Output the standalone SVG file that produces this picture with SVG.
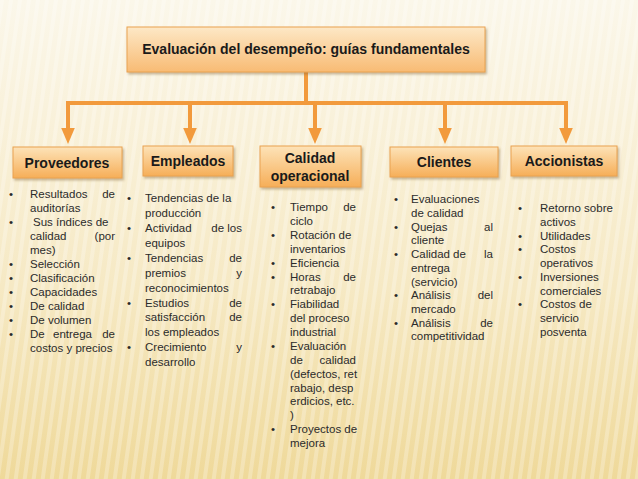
<svg xmlns="http://www.w3.org/2000/svg" width="638" height="479" viewBox="0 0 638 479">
<defs>
<linearGradient id="bg" x1="0" y1="0" x2="0" y2="1"><stop offset="0" stop-color="#fbf7ea"/><stop offset="0.6" stop-color="#f6e9c4"/><stop offset="1" stop-color="#efd99a"/></linearGradient>
<pattern id="st" width="9" height="10" patternUnits="userSpaceOnUse" patternTransform="skewX(-8)"><rect width="4" height="10" fill="#ffffff" opacity="0.25"/></pattern>
<linearGradient id="bx" x1="0" y1="0" x2="0" y2="1"><stop offset="0" stop-color="#fde3b8"/><stop offset="1" stop-color="#f6ae58"/></linearGradient>
<linearGradient id="tb" x1="0" y1="0" x2="0" y2="1"><stop offset="0" stop-color="#fde8c6"/><stop offset="1" stop-color="#f8bb74"/></linearGradient>
<marker id="ah" markerWidth="4" markerHeight="4" refX="2" refY="2" orient="auto" markerUnits="strokeWidth"><path d="M0,0.3 L4,2 L0,3.7 z" fill="#f29a3c"/></marker>
<filter id="sh" x="-10%" y="-10%" width="130%" height="140%"><feDropShadow dx="1.5" dy="2" stdDeviation="1.2" flood-color="#8a6a3a" flood-opacity="0.45"/></filter>
</defs>
<style>
.box{stroke:#e9a250;stroke-width:1;filter:url(#sh)}
.h{font-family:"Liberation Sans",Arial,sans-serif;font-weight:bold;font-size:14px;fill:#1a1a1a;text-anchor:middle}
.t{font-family:"Liberation Sans",Arial,sans-serif;font-size:11.5px;fill:#2b2b2b}
.e{text-anchor:end}
.c{fill:none;stroke:#f29a3c;stroke-width:4}
</style>
<rect width="638" height="479" fill="url(#bg)"/>
<rect width="638" height="479" fill="url(#st)"/>
<g id="connectors">
<path class="c" d="M306,72 V103 M66,103 H568"/>
<path class="c" d="M68,102 V136" marker-end="url(#ah)"/>
<path class="c" d="M190,102 V136" marker-end="url(#ah)"/>
<path class="c" d="M315,102 V136" marker-end="url(#ah)"/>
<path class="c" d="M445,102 V136" marker-end="url(#ah)"/>
<path class="c" d="M566,102 V136" marker-end="url(#ah)"/>
</g>
<g id="title"><rect class="box" x="127" y="27" width="358" height="45" fill="url(#tb)"/><text class="h" x="306" y="54" font-size="13.5">Evaluación del desempeño: guías fundamentales</text></g>
<g id="proveedores"><rect class="box" x="13" y="147" width="109" height="31" fill="url(#bx)"/><text class="h" x="67" y="168">Proveedores</text>
<g class="t">
<text x="9" y="198">•</text><text x="30" y="198">Resultados</text><text class="e" x="115" y="198">de</text>
<text x="30" y="212">auditorías</text>
<text x="9" y="226">•</text><text x="33" y="226">Sus índices de</text>
<text x="30" y="240">calidad</text><text class="e" x="115" y="240">(por</text>
<text x="30" y="254">mes)</text>
<text x="9" y="268">•</text><text x="30" y="268">Selección</text>
<text x="9" y="282">•</text><text x="30" y="282">Clasificación</text>
<text x="9" y="296">•</text><text x="30" y="296">Capacidades</text>
<text x="9" y="310">•</text><text x="30" y="310">De calidad</text>
<text x="9" y="324">•</text><text x="30" y="324">De volumen</text>
<text x="9" y="338">•</text><text x="30" y="338">De</text><text x="53" y="338">entrega</text><text class="e" x="115" y="338">de</text>
<text x="30" y="352">costos y precios</text>
</g></g>
<g id="empleados"><rect class="box" x="143" y="146" width="90" height="30" fill="url(#bx)"/><text class="h" x="188" y="166">Empleados</text>
<g class="t" font-size="12.5">
<text x="127" y="202">•</text><text x="145" y="202">Tendencias de la</text>
<text x="145" y="217">producción</text>
<text x="127" y="232">•</text><text x="145" y="232">Actividad</text><text class="e" x="242" y="232">de los</text>
<text x="145" y="247">equipos</text>
<text x="127" y="262">•</text><text x="145" y="262">Tendencias</text><text class="e" x="242" y="262">de</text>
<text x="145" y="277">premios</text><text class="e" x="242" y="277">y</text>
<text x="145" y="292">reconocimientos</text>
<text x="127" y="307">•</text><text x="145" y="307">Estudios</text><text class="e" x="242" y="307">de</text>
<text x="145" y="321">satisfacción</text><text class="e" x="242" y="321">de</text>
<text x="145" y="336">los empleados</text>
<text x="127" y="351">•</text><text x="145" y="351">Crecimiento</text><text class="e" x="242" y="351">y</text>
<text x="145" y="366">desarrollo</text>
</g></g>
<g id="calidad"><rect class="box" x="260" y="146" width="101" height="41" fill="url(#bx)"/><text class="h" x="310" y="163">Calidad</text><text class="h" x="310" y="181">operacional</text>
<g class="t" font-size="11">
<text x="271" y="211">•</text><text x="290" y="211">Tiempo</text><text class="e" x="356" y="211">de</text>
<text x="290" y="225">ciclo</text>
<text x="271" y="239">•</text><text x="290" y="239">Rotación de</text>
<text x="290" y="253">inventarios</text>
<text x="271" y="267">•</text><text x="290" y="267">Eficiencia</text>
<text x="271" y="281">•</text><text x="290" y="281">Horas</text><text class="e" x="356" y="281">de</text>
<text x="290" y="294">retrabajo</text>
<text x="271" y="308">•</text><text x="290" y="308">Fiabilidad</text>
<text x="290" y="322">del proceso</text>
<text x="290" y="336">industrial</text>
<text x="271" y="350">•</text><text x="290" y="350">Evaluación</text>
<text x="290" y="364">de</text><text class="e" x="356" y="364">calidad</text>
<text x="290" y="378">(defectos, ret</text>
<text x="290" y="392">rabajo, desp</text>
<text x="290" y="405">erdicios, etc.</text>
<text x="290" y="419">)</text>
<text x="271" y="433">•</text><text x="290" y="433">Proyectos de</text>
<text x="290" y="447">mejora</text>
</g></g>
<g id="clientes"><rect class="box" x="390" y="147" width="108" height="30" fill="url(#bx)"/><text class="h" x="444" y="167">Clientes</text>
<g class="t" font-size="11">
<text x="394" y="203">•</text><text x="411" y="203">Evaluaciones</text>
<text x="411" y="217">de calidad</text>
<text x="394" y="231">•</text><text x="411" y="231">Quejas</text><text class="e" x="493" y="231">al</text>
<text x="411" y="244">cliente</text>
<text x="394" y="258">•</text><text x="411" y="258">Calidad</text><text x="453" y="258">de</text><text class="e" x="493" y="258">la</text>
<text x="411" y="272">entrega</text>
<text x="411" y="286">(servicio)</text>
<text x="394" y="299">•</text><text x="411" y="299">Análisis</text><text class="e" x="493" y="299">del</text>
<text x="411" y="313">mercado</text>
<text x="394" y="327">•</text><text x="411" y="327">Análisis</text><text class="e" x="493" y="327">de</text>
<text x="411" y="340">competitividad</text>
</g></g>
<g id="accionistas"><rect class="box" x="511" y="146" width="106" height="30" fill="url(#bx)"/><text class="h" x="564" y="166">Accionistas</text>
<g class="t" font-size="11">
<text x="518" y="212">•</text><text x="540" y="212">Retorno sobre</text>
<text x="540" y="226">activos</text>
<text x="518" y="240">•</text><text x="540" y="240">Utilidades</text>
<text x="518" y="253">•</text><text x="540" y="253">Costos</text>
<text x="540" y="267">operativos</text>
<text x="518" y="281">•</text><text x="540" y="281">Inversiones</text>
<text x="540" y="295">comerciales</text>
<text x="518" y="308">•</text><text x="540" y="308">Costos de</text>
<text x="540" y="322">servicio</text>
<text x="540" y="336">posventa</text>
</g></g>
</svg>
